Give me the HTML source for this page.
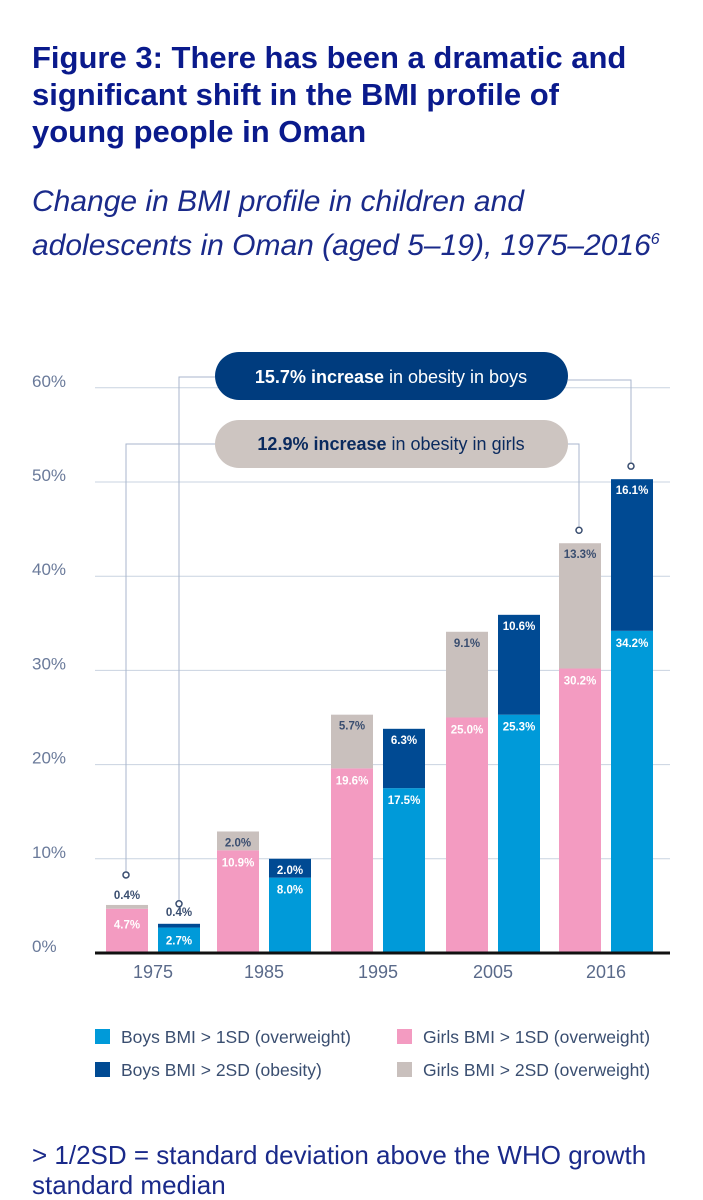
<!DOCTYPE html>
<html><head><meta charset="utf-8"><style>
body{margin:0;width:703px;height:1200px;background:#fff;font-family:"Liberation Sans",sans-serif;overflow:hidden;position:relative}
.t{position:absolute;left:32px;top:39px;width:660px;font-size:31px;line-height:37px;font-weight:bold;color:#0a1a8c}
.s{position:absolute;left:32px;top:183px;font-size:30px;line-height:38px;font-style:italic;color:#1a2a8a}
.f{position:absolute;left:32px;top:1140px;font-size:26px;line-height:30px;color:#1a2a8a}
svg{position:absolute;left:0;top:0}
</style></head><body>
<div class="t">Figure 3: There has been a dramatic and<br>significant shift in the BMI profile of<br>young people in Oman</div>
<div class="s">Change in BMI profile in children and<br>adolescents in Oman (aged 5–19), 1975–2016<sup style="font-size:16px">6</sup></div>
<svg id="c" width="703" height="1200"></svg>
<div class="f">&gt; 1/2SD = standard deviation above the WHO growth<br>standard median</div>
<script>
const years=["1975","1985","1995","2005","2016"];
const girlsOver=[4.7,10.9,19.6,25.0,30.2];
const girlsObese=[0.4,2.0,5.7,9.1,13.3];
const boysOver=[2.7,8.0,17.5,25.3,34.2];
const boysObese=[0.4,2.0,6.3,10.6,16.1];
const ticks=[0,10,20,30,40,50,60];
const svg=document.getElementById('c');const NS='http://www.w3.org/2000/svg';
function el(t,a,p){const e=document.createElementNS(NS,t);for(const k in a)e.setAttribute(k,a[k]);(p||svg).appendChild(e);return e;}
const y=v=>953-v*9.42;
const centers=[153,264,378,493,606];
const gx=i=>centers[i]-47, bx=i=>centers[i]+5, W=42;
ticks.forEach(t=>{
 const l=el('line',{x1:95,x2:670,y1:y(t),y2:y(t),stroke:'#c9d3e0','stroke-width':1});
 
 const tx=el('text',{x:32,y:y(t)-1,'font-size':17,fill:'#6a7a9a'});tx.textContent=t+'%';
 
});
const cs='#a8b6cc';
el('polyline',{points:`${bx(0)+21},${y(boysOver[0]+boysObese[0])-20} ${bx(0)+21},377 215,377`,fill:'none',stroke:cs});
el('polyline',{points:`568,380 ${bx(4)+20},380 ${bx(4)+20},${y(boysOver[4]+boysObese[4])-17}`,fill:'none',stroke:cs});
el('polyline',{points:`${gx(0)+20},${y(girlsOver[0]+girlsObese[0])-30} ${gx(0)+20},444 215,444`,fill:'none',stroke:cs});
el('polyline',{points:`568,444 ${gx(4)+20},444 ${gx(4)+20},${y(girlsOver[4]+girlsObese[4])-17}`,fill:'none',stroke:cs});
[[bx(0)+21,y(boysOver[0]+boysObese[0])-20],[bx(4)+20,y(boysOver[4]+boysObese[4])-13],[gx(0)+20,y(girlsOver[0]+girlsObese[0])-30],[gx(4)+20,y(girlsOver[4]+girlsObese[4])-13]].forEach(p=>{
 const c=el('circle',{cx:p[0],cy:p[1],r:3,fill:'#fff',stroke:'#3a4e70','stroke-width':1.5});
 
});
const p1=el('rect',{x:215,y:352,width:353,height:48,rx:24,fill:'#003c7e'});
const t1=el('text',{x:391,y:383,'text-anchor':'middle','font-size':18,fill:'#fff'});t1.innerHTML='<tspan font-weight="bold">15.7% increase</tspan> in obesity in boys';
const p2=el('rect',{x:215,y:420,width:353,height:48,rx:24,fill:'#cdc5c1'});
const t2=el('text',{x:391,y:450,'text-anchor':'middle','font-size':18,fill:'#0a2a5e'});t2.innerHTML='<tspan font-weight="bold">12.9% increase</tspan> in obesity in girls';
function lab(x,yy,txt,col){const t=el('text',{x:x+W/2,y:yy,'text-anchor':'middle','font-size':11.5,'font-weight':'bold',fill:col});t.textContent=txt;return t;}
years.forEach((yr,i)=>{
 const g1=el('rect',{x:gx(i),y:y(girlsOver[i]),width:W,height:y(0)-y(girlsOver[i]),fill:'#f39bc1'});
 
 const g2=el('rect',{x:gx(i),y:y(girlsOver[i]+girlsObese[i]),width:W,height:y(girlsOver[i])-y(girlsOver[i]+girlsObese[i]),fill:'#c9c0bd'});
 
 const b1=el('rect',{x:bx(i),y:y(boysOver[i]),width:W,height:y(0)-y(boysOver[i]),fill:'#009ad9'});
 
 const b2=el('rect',{x:bx(i),y:y(boysOver[i]+boysObese[i]),width:W,height:y(boysOver[i])-y(boysOver[i]+boysObese[i]),fill:'#004a93'});
 
 const small=girlsObese[i]<1.5;
 lab(gx(i),y(girlsOver[i])+(small?20:16),girlsOver[i].toFixed(1)+'%','#fff');
 lab(gx(i),small?y(girlsOver[i]+girlsObese[i])-6:y(girlsOver[i]+girlsObese[i])+15,girlsObese[i].toFixed(1)+'%','#3a4e70');
 lab(bx(i),y(boysOver[i])+(boysObese[i]<1.5?17:16),boysOver[i].toFixed(1)+'%','#fff');
 lab(bx(i),boysObese[i]<1.5?y(boysOver[i]+boysObese[i])-8:y(boysOver[i]+boysObese[i])+15,boysObese[i].toFixed(1)+'%',boysObese[i]<1.5?'#3a4e70':'#fff');
 const yl=el('text',{x:centers[i],y:978,'text-anchor':'middle','font-size':18,fill:'#5a6a8a'});yl.textContent=yr;
 
});
const ax=el('line',{x1:95,x2:670,y1:953,y2:953,stroke:'#111','stroke-width':3});
const leg=[[95,1037,'#009ad9','Boys BMI > 1SD (overweight)'],[95,1070,'#004a93','Boys BMI > 2SD (obesity)'],[397,1037,'#f39bc1','Girls BMI > 1SD (overweight)'],[397,1070,'#c9c0bd','Girls BMI > 2SD (overweight)']];
leg.forEach(l=>{const g=el('g',{});
 el('rect',{x:l[0],y:l[1]-8,width:15,height:15,fill:l[2]},g);
 const t=el('text',{x:l[0]+26,y:l[1]+6,'font-size':17.5,fill:'#3a4e70'},g);t.textContent=l[3];});
</script>
</body></html>
